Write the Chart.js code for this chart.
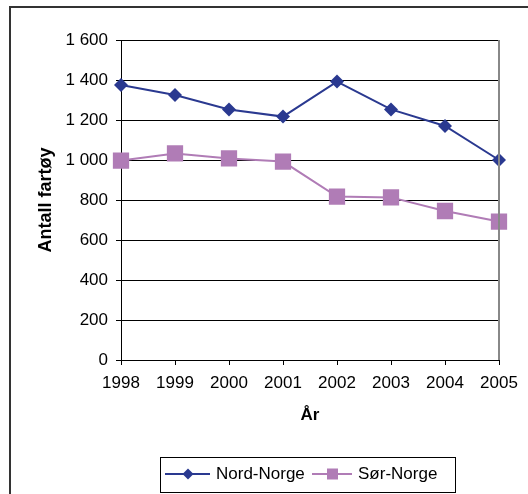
<!DOCTYPE html>
<html>
<head>
<meta charset="utf-8">
<script src="https://cdn.jsdelivr.net/npm/chart.js@4/dist/chart.umd.min.js"></script>
<style>
  body { margin: 0; background: #fff; }
  canvas { display: block; }
</style>
</head>
<body>
<canvas id="chart" width="528" height="494"></canvas>
<script>
const years = ["1998", "1999", "2000", "2001", "2002", "2003", "2004", "2005"];
const nordNorge = [1375, 1325, 1253, 1217, 1392, 1253, 1170, 1000];
const sorNorge = [997, 1033, 1008, 992, 817, 813, 745, 692];
const seriesNames = ["Nord-Norge", "Sør-Norge"];

const FONT = "'Liberation Sans', Arial, sans-serif";
const navy = "#2a3990";
const orchid = "#b07cb6";

// format 1600 -> "1 600"
const fmt = (v) => v >= 1000 ? Math.floor(v / 1000) + " " + String(v % 1000).padStart(3, "0") : String(v);

const framePlugin = {
  id: "frame",
  afterDraw(chart) {
    const ctx = chart.ctx;
    const a = chart.chartArea;
    ctx.save();
    // outer frame (top + left)
    ctx.strokeStyle = "#333";
    ctx.lineWidth = 2;
    ctx.beginPath();
    ctx.moveTo(10, 494);
    ctx.lineTo(10, 7);
    ctx.lineTo(528, 7);
    ctx.stroke();
    // right border of plot
    ctx.strokeStyle = "#888";
    ctx.lineWidth = 2;
    ctx.beginPath();
    ctx.moveTo(a.right, a.top);
    ctx.lineTo(a.right, a.bottom);
    ctx.stroke();

    // legend
    ctx.strokeStyle = "#000";
    ctx.lineWidth = 1;
    ctx.strokeRect(160.5, 457.5, 295, 35);
    const ly = 474;
    ctx.font = "17px " + FONT;
    ctx.fillStyle = "#000";
    ctx.textBaseline = "middle";
    // Nord-Norge
    ctx.strokeStyle = navy;
    ctx.lineWidth = 2;
    ctx.beginPath(); ctx.moveTo(165, ly); ctx.lineTo(210, ly); ctx.stroke();
    ctx.fillStyle = navy;
    ctx.beginPath();
    ctx.moveTo(188, ly - 5.5); ctx.lineTo(193.5, ly); ctx.lineTo(188, ly + 5.5); ctx.lineTo(182.5, ly);
    ctx.closePath(); ctx.fill();
    ctx.fillStyle = "#000";
    ctx.fillText(seriesNames[0], 216, ly);
    // Sør-Norge
    ctx.strokeStyle = orchid;
    ctx.beginPath(); ctx.moveTo(312, ly); ctx.lineTo(352, ly); ctx.stroke();
    ctx.fillStyle = orchid;
    ctx.fillRect(327, ly - 5.5, 11, 11);
    ctx.fillStyle = "#000";
    ctx.fillText(seriesNames[1], 358, ly);
    ctx.restore();
  }
};

new Chart(document.getElementById("chart"), {
  type: "line",
  data: {
    labels: years,
    datasets: [
      {
        label: seriesNames[0],
        data: nordNorge,
        borderColor: navy,
        backgroundColor: navy,
        borderWidth: 2,
        pointStyle: "rectRot",
        pointRadius: 7,
        pointBorderWidth: 0,
        tension: 0,
      },
      {
        label: seriesNames[1],
        data: sorNorge,
        borderColor: orchid,
        backgroundColor: orchid,
        borderWidth: 2,
        pointStyle: "rect",
        pointRadius: 11.5,
        pointBorderWidth: 0,
        tension: 0,
      },
    ],
  },
  options: {
    responsive: false,
    animation: false,
    layout: { padding: { left: 0, right: 29, top: 40, bottom: 64 } },
    plugins: {
      legend: { display: false },
      tooltip: { enabled: false },
    },
    scales: {
      x: {
        offset: false,
        afterFit: (s) => { s.height = 70; },
        grid: { display: true, drawOnChartArea: false, drawTicks: true, tickLength: 5, color: "#000" },
        border: { color: "#000", width: 1 },
        ticks: { color: "#000", padding: 8, maxRotation: 0, font: { family: FONT, size: 17 } },
        title: { display: true, text: "År", color: "#000", padding: { top: 4, bottom: 4 }, font: { family: FONT, size: 17, weight: "bold" } },
      },
      y: {
        min: 0,
        max: 1600,
        afterFit: (s) => { s.width = 121; },
        grid: { color: "#000", tickLength: 5 },
        border: { color: "#000", width: 1 },
        ticks: { stepSize: 200, color: "#000", padding: 8, font: { family: FONT, size: 17 }, callback: (v) => fmt(v) },
        title: { display: true, text: "Antall fartøy", color: "#000", padding: { top: 35, bottom: 4 }, font: { family: FONT, size: 18, weight: "bold" } },
      },
    },
  },
  plugins: [framePlugin],
});
</script>
</body>
</html>
